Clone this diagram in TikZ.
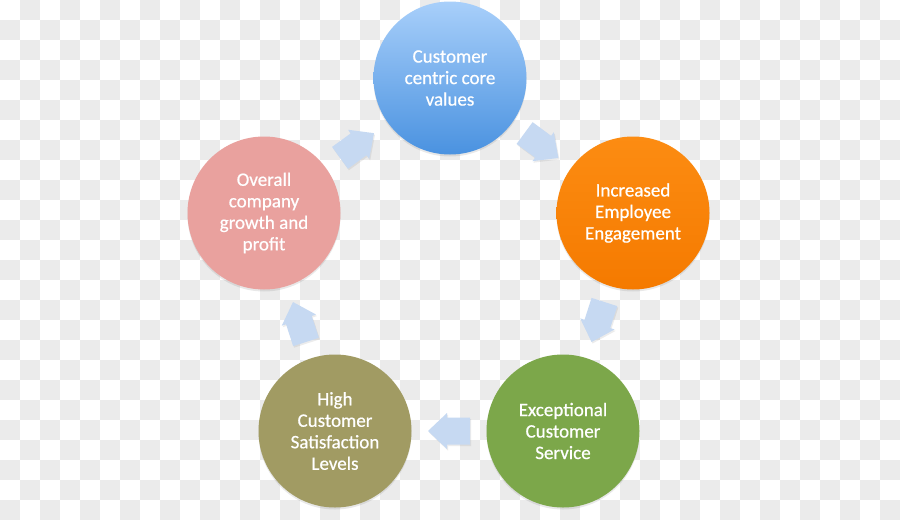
\documentclass[tikz,border=0pt]{standalone}
\usepackage{fontspec}
\setmainfont{Carlito}
\newfontfamily\bubfont[FakeBold=0.6]{Carlito}
\usetikzlibrary{calc,shadows}
\definecolor{chk}{HTML}{EBEBEB}
\definecolor{arrfill}{HTML}{C6D9F2}
\tikzset{
  bub/.style={circle, minimum size=153pt, inner sep=0pt, align=center, text=white,
    font=\bubfont\fontsize{19}{21.5}\selectfont,
    drop shadow={opacity=0.18, shadow xshift=0pt, shadow yshift=-2pt}},
  cycarr/.style={fill=arrfill, drop shadow={opacity=0.15, shadow xshift=1pt, shadow yshift=-1.5pt}}
}
\newcommand\cycarrow[2]{%
  \path let \p1=($(#1)!0.5!(#2)$), \p2=($(#2)-(#1)$), \n1={atan2(\y2,\x2)} in
    [shift={(\p1)}, rotate=\n1, cycarr]
    (21,0) -- (2,18) -- (2,13.5) -- (-21,13.5) -- (-21,-13.5) -- (2,-13.5) -- (2,-18) -- cycle;}
\begin{document}
\begin{tikzpicture}[x=1pt,y=-1pt]
\useasboundingbox (0,0) rectangle (900,520);
\fill[white] (0,0) rectangle (900,520);
\foreach \j in {0,...,25}{
  \pgfmathtruncatemacro\s{mod(\j+1,2)}
  \pgfmathtruncatemacro\t{\s+2}
  \foreach \i in {\s,\t,...,44}{
    \fill[chk] (\i*20,\j*20) rectangle ++(20,20);
  }
}
\node[bub, top color={rgb,255:red,168;green,207;blue,250}, bottom color={rgb,255:red,74;green,146;blue,224}] (a) at (450,78) {Customer\\centric core\\values};
\node[bub, top color={rgb,255:red,252;green,140;blue,18}, bottom color={rgb,255:red,245;green,122;blue,0}] (b) at (633,213) {Increased\\Employee\\Engagement};
\node[bub, fill={rgb,255:red,124;green,167;blue,74}] (c) at (563,431) {Exceptional\\Customer\\Service};
\node[bub, fill={rgb,255:red,161;green,155;blue,99}] (d) at (335,431) {High\\Customer\\Satisfaction\\Levels};
\node[bub, fill={rgb,255:red,233;green,161;blue,158}] (e) at (264,213) {Overall\\company\\growth and\\profit};
\cycarrow{e}{a}
\cycarrow{a}{b}
\cycarrow{b}{c}
\cycarrow{c}{d}
\cycarrow{d}{e}
\end{tikzpicture}
\end{document}
